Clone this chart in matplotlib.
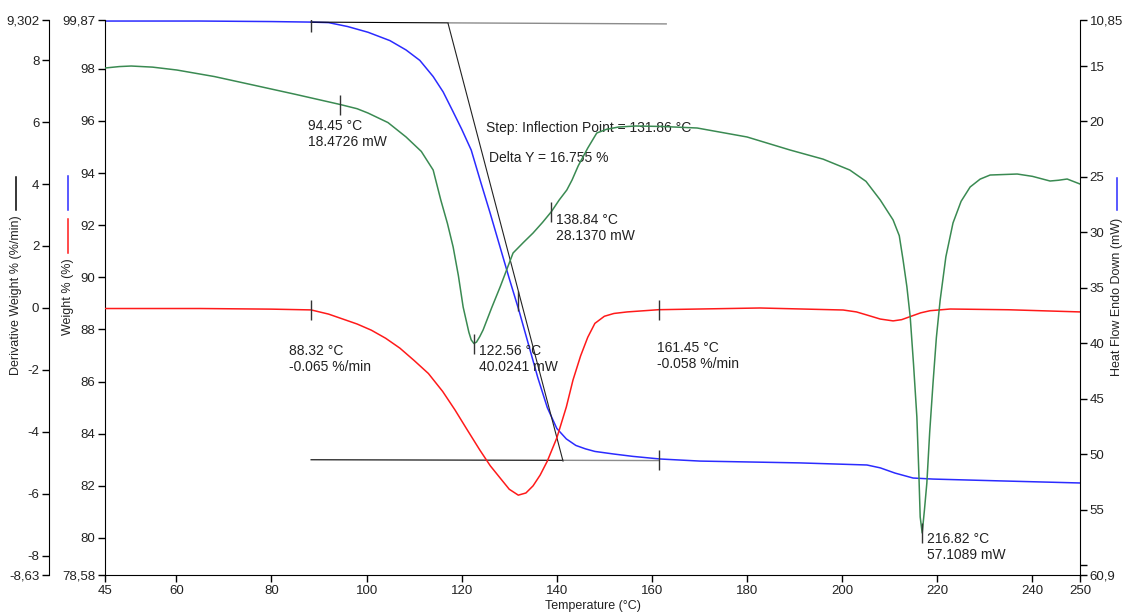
import matplotlib.pyplot as plt
from matplotlib.lines import Line2D

plt.rcParams['font.family'] = ['Liberation Sans', 'DejaVu Sans']

# TGA weight curve
weight_temp = [45, 65, 80, 88.1, 92, 96, 100.3, 104.9, 108.3, 111.2, 114.0, 116.1,
               118.0, 120.0, 122.0, 124.0, 126.0, 128.0, 130.0, 132.0, 134.0, 136.0,
               138.0, 140.0, 142.0, 144.0, 146.0, 148.0, 152.0, 156.0, 161.7, 170.1,
               191.1, 205.2, 208.0, 211.1, 214.9, 219.1, 233.2, 250]
weight_pct = [99.83, 99.83, 99.81, 99.79, 99.77, 99.62, 99.40, 99.08, 98.72, 98.32, 97.70,
              97.11, 96.42, 95.68, 94.88, 93.65, 92.45, 91.20, 89.95, 88.75, 87.45, 86.15,
              85.0, 84.2, 83.8, 83.55, 83.42, 83.32, 83.22, 83.13, 83.03, 82.95,
              82.88, 82.80, 82.69, 82.49, 82.30, 82.26, 82.19, 82.11]

# derivative weight
deriv_temp = [45, 65, 80, 88.32, 92, 95, 98, 101, 104, 107, 110, 113, 116, 118.6, 121,
              123.8, 126, 128.1, 130, 131.9, 133.5, 135, 136.5, 138, 140, 142, 143.4,
              145, 146.5, 148, 150, 152, 154.8, 161.45, 182.7, 200.2, 203, 205.2, 208,
              210.7, 212.5, 214.5, 216.5, 218.5, 222.7, 235, 250]
deriv_rate = [-0.02, -0.02, -0.04, -0.065, -0.2, -0.36, -0.52, -0.72, -0.98, -1.30, -1.70,
              -2.12, -2.70, -3.30, -3.90, -4.59, -5.10, -5.50, -5.86, -6.05, -5.98, -5.75,
              -5.40, -4.95, -4.20, -3.20, -2.33, -1.55, -0.95, -0.50, -0.27, -0.18, -0.13,
              -0.058, -0.003, -0.068, -0.13, -0.23, -0.36, -0.42, -0.38, -0.27, -0.16,
              -0.09, -0.036, -0.06, -0.13]

# DSC heat flow
heat_temp = [45, 48, 50.5, 55, 60.1, 68, 76.1, 85, 94.45, 98, 100.3, 104.5, 108.3, 111.5,
             114.0, 115.6, 117.0, 118.2, 119.3, 120.3, 121.5, 122.0, 122.56, 123.1, 123.8,
             124.5, 126.3, 128.1, 130.8, 133.0, 135.0, 137.0, 138.84, 140.5, 142.1, 143.2,
             144.5, 146.5, 148.4, 150.5, 153.0, 156.6, 162.0, 169.5, 180.0, 189.0, 196.0,
             201.6, 205.0, 208.0, 210.7, 212.0, 212.8, 213.6, 214.3, 215.0, 215.7, 216.1,
             216.4, 216.82, 217.3, 217.8, 218.4, 219.1, 219.8, 220.6, 221.8, 223.3, 225.0,
             226.9, 229.0, 231.1, 236.8, 240.0, 243.7, 245.5, 247.3, 250]
heat_mw = [15.18, 15.05, 15.0, 15.1, 15.36, 15.95, 16.71, 17.55, 18.47, 18.85, 19.24, 20.1,
           21.40, 22.7, 24.38, 27.08, 29.2, 31.32, 33.9, 36.73, 39.0, 39.7, 40.02, 39.9,
           39.4, 38.8, 36.8, 34.9, 31.86, 30.9, 30.06, 29.1, 28.14, 27.08, 26.18, 25.28,
           24.0, 22.4, 21.04, 20.7, 20.5, 20.41, 20.45, 20.59, 21.4, 22.57, 23.4,
           24.38, 25.4, 27.08, 28.88, 30.3, 32.49, 34.9, 37.63, 41.9, 46.65, 51.5,
           55.67, 57.11, 55.0, 52.6, 48.0, 43.58, 39.5, 36.1, 32.2, 29.15, 27.2,
           25.91, 25.2, 24.83, 24.74, 24.95, 25.37, 25.3, 25.19, 25.64]

# step analysis construction lines
top_line_temp = [88.32, 117.1, 163.0]
top_line_pct = [99.79, 99.76, 99.72]
bottom_line_temp = [88.32, 141.3, 161.45]
bottom_line_pct = [83.0, 82.98, 82.97]
tangent_temp = [117.1, 141.3]
tangent_pct = [99.76, 82.95]
inflection_temp = 131.86
inflection_pct = 89.1
delta_y = 16.755

# peak / onset marks
heat_marks = [(94.45, 18.4726), (122.56, 40.0241), (138.84, 28.1370), (216.82, 57.1089)]
deriv_marks = [(88.32, -0.065), (161.45, -0.058)]
weight_marks = [(88.32, 99.79), (161.45, 83.0)]

x_ticks = [45, 60, 80, 100, 120, 140, 160, 180, 200, 220, 240, 250]
weight_ticks = [78.58, 80, 82, 84, 86, 88, 90, 92, 94, 96, 98, 99.87]
deriv_ticks = [-8.63, -8, -6, -4, -2, 0, 2, 4, 6, 8, 9.302]
heat_ticks = [10.85, 15, 20, 25, 30, 35, 40, 45, 50, 55, 60, 60.9]


def fmt(v):
    s = f"{v:g}"
    return s.replace('.', ',')


W, H = 1125, 615
fig = plt.figure(figsize=(W / 100, H / 100), dpi=100)
ax = fig.add_axes([105 / W, 40 / H, 975 / W, 555 / H])
ax_d = ax.twinx()
ax_h = ax.twinx()

tick_kw = dict(direction='out', length=5, width=1, labelsize=9.5,
               labelcolor='#222222', pad=2)

# weight axis (inner left)
ax.set_xlim(45, 250)
ax.set_ylim(78.58, 99.87)
ax.spines['top'].set_visible(False)
ax.spines['right'].set_visible(False)
ax.set_xticks(x_ticks)
ax.set_xticklabels([str(t) for t in x_ticks])
ax.set_yticks(weight_ticks)
ax.set_yticklabels([fmt(t) for t in weight_ticks])
ax.tick_params(axis='both', **tick_kw)

# derivative axis (outer left)
ax_d.set_ylim(-8.63, 9.302)
for s in ['top', 'right', 'bottom']:
    ax_d.spines[s].set_visible(False)
ax_d.spines['left'].set_visible(True)
ax_d.spines['left'].set_position(('axes', (49 - 105) / 975))
ax_d.yaxis.set_ticks_position('left')
ax_d.set_yticks(deriv_ticks)
ax_d.set_yticklabels([fmt(t) for t in deriv_ticks])
ax_d.tick_params(axis='y', **tick_kw)

# heat flow axis (right, endo down)
ax_h.set_ylim(60.9, 10.85)
for s in ['top', 'left', 'bottom']:
    ax_h.spines[s].set_visible(False)
ax_h.set_yticks(heat_ticks)
ax_h.set_yticklabels([fmt(t) if t != 60 else '' for t in heat_ticks])
ax_h.tick_params(axis='y', **tick_kw)

blue = '#2b2bff'
red = '#ff1a1a'
green = '#3a8a52'

ax_h.plot(heat_temp, heat_mw, color=green, lw=1.1)
ax_d.plot(deriv_temp, deriv_rate, color=red, lw=1.1)
ax.plot(weight_temp, weight_pct, color=blue, lw=1.1)

# step construction
ax.plot(top_line_temp[:2], top_line_pct[:2], color='black', lw=0.8)
ax.plot(top_line_temp[1:], top_line_pct[1:], color='#8c8c8c', lw=1.0)
ax.plot(bottom_line_temp[:2], bottom_line_pct[:2], color='black', lw=0.8)
ax.plot(bottom_line_temp[1:], bottom_line_pct[1:], color='#8c8c8c', lw=1.0)
ax.plot(tangent_temp, tangent_pct, color='#222222', lw=0.8)

mk = dict(marker='|', markersize=14.5, markeredgewidth=1.0, color='#333333', ls='none')
ax.plot([inflection_temp], [inflection_pct], **mk)
for t, v in weight_marks:
    ax.plot([t], [v], **mk)
for t, v in deriv_marks:
    ax_d.plot([t], [v], **mk)
for t, v in heat_marks:
    ax_h.plot([t], [v], **mk)

txt = dict(fontsize=10, color='#222222', ha='left', va='top',
           textcoords='offset pixels', linespacing=1.2)
heat_offsets = [(-32, -14), (5, 0), (5, -1), (5, 1)]
for (t, v), off in zip(heat_marks, heat_offsets):
    ax_h.annotate(f"{t:.2f} °C\n{v:.4f} mW", xy=(t, v), xytext=off, **txt)
deriv_offsets = [(-22, -34), (-2, -31)]
for (t, v), off in zip(deriv_marks, deriv_offsets):
    ax_d.annotate(f"{t:.2f} °C\n{v:.3f} %/min", xy=(t, v), xytext=off, **txt)

ax.text(125.1, 95.73, f"Step: Inflection Point = {inflection_temp:.2f} °C",
        fontsize=10, color='#222222', va='center')
ax.text(125.7, 94.58, f"Delta Y = {delta_y:.3f} %",
        fontsize=10, color='#222222', va='center')

# axis titles with series keys
lab = dict(fontsize=9, color='#222222', rotation=90, ha='center', va='center')
fig.text(593 / W, 1 - 606 / H, "Temperature (°C)", fontsize=9, color='#222222',
         ha='center', va='center')
fig.text(16 / W, 1 - 295 / H, "Derivative Weight % (%/min)", **lab)
fig.text(68 / W, 1 - 297 / H, "Weight % (%)", **lab)
fig.text(1117 / W, 1 - 297 / H, "Heat Flow Endo Down (mW)", **lab)


def key(x, y0, y1, c):
    fig.add_artist(Line2D([x / W, x / W], [1 - y0 / H, 1 - y1 / H],
                          transform=fig.transFigure, color=c, lw=1.1))


key(16, 177, 210, 'black')
key(68, 176, 210, blue)
key(68, 219, 253, red)
key(1117, 178, 210, blue)

fig.savefig('out.png', dpi=100)
